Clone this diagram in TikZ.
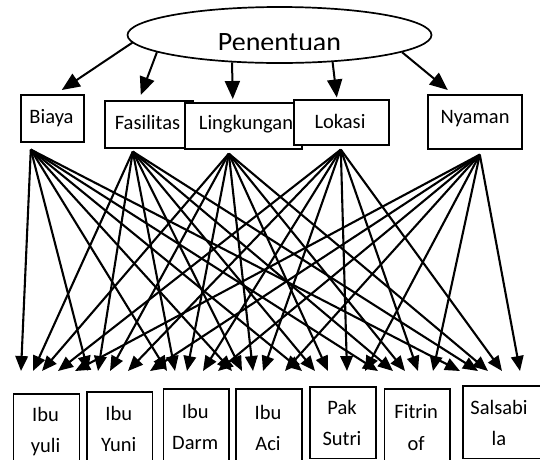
\documentclass[tikz,border=0pt]{standalone}
\usepackage{fontspec}
\setmainfont{Carlito}
\usetikzlibrary{arrows.meta,shapes.geometric,calc}
\begin{document}
\begin{tikzpicture}[x=1pt,y=-1pt,
  box/.style={draw,line width=1.6pt,rectangle,inner sep=0pt,anchor=north west,fill=white},
  lbl/.style={font=\fontsize{20.5}{24}\selectfont,anchor=base,inner sep=0pt},
  arr/.style={line width=2pt,-{Triangle[length=18pt,width=15pt]}},
  fan/.style={line width=2.1pt,-{Triangle[length=15pt,width=12.5pt]}}]
\useasboundingbox (0,0) rectangle (540,459);
% ellipse
\node[draw,ellipse,line width=1.7pt,minimum width=304pt,minimum height=56pt,inner sep=0pt] (pe) at (279.5,35) {};
\begin{scope}
\clip (0,0) rectangle (540,49.3);
\node[anchor=base,inner sep=0pt,font=\fontsize{28}{30}\selectfont] (pt) at (279.5,51.5) {Penentuan};
\end{scope}
% criteria boxes
\node[box,minimum width=63pt,minimum height=47pt] (bi) at (20,94) {};
\node[box,minimum width=88pt,minimum height=47pt] (fa) at (104,100) {};
\node[box,minimum width=117pt,minimum height=46pt] (li) at (184,102) {};
\node[box,minimum width=95pt,minimum height=45pt] (lo) at (293,99) {};
\node[box,minimum width=94pt,minimum height=54pt] (ny) at (427,94) {};
\node[lbl] (bit) at (51.5,123) {Biaya};
\node[lbl] (fat) at (147.5,129.3) {Fasilitas};
\node[lbl] (lit) at (246,129.3) {Lingkungan};
\node[lbl] (lot) at (340,128.3) {Lokasi};
\node[lbl] (nyt) at (475,123.3) {Nyaman};
% arrows from ellipse
\draw[arr] (pe.183.4) -- ($(bi.north)+(9.5,-4)$);
\draw[arr] (pe.188.8) -- ($(fa.north)+(-8,-5)$);
\draw[arr] (pe.210.5) -- ($(li.north)+(-10.5,-3)$);
\draw[arr] (pe.333.6) -- ($(lo.north)+(-4.5,-1.5)$);
\draw[arr] (pe.352) -- ($(ny.north)+(-27,-4)$);
% fan origins
\coordinate (bo) at ($(bi.south)+(-21.5,7)$);
\coordinate (fo) at ($(fa.south)+(-16,3)$);
\coordinate (lio) at ($(li.south)+(-14.5,4)$);
\coordinate (loo) at ($(lo.south)+(-0.5,4)$);
\coordinate (no) at ($(ny.south)+(5,5)$);
% bottom boxes
\node[box,minimum width=65.8pt,minimum height=70pt] (b1) at (12.7,393) {};
\node[box,minimum width=65.5pt,minimum height=72pt] (b2) at (86,391) {};
\node[box,minimum width=65.5pt,minimum height=75pt] (b3) at (162.5,388) {};
\node[box,minimum width=66pt,minimum height=75pt] (b4) at (235,388) {};
\node[box,minimum width=66pt,minimum height=71.5pt] (b5) at (309,386) {};
\node[box,minimum width=65.5pt,minimum height=75pt] (b6) at (383.5,388) {};
\node[box,minimum width=82pt,minimum height=72.5pt] (b7) at (462,385) {};
\node[lbl] (b1a) at (45.6,421.5) {Ibu};
\node[lbl] (b1b) at (45.6,452.5) {yuli};
\node[lbl] (b2a) at (118.7,420.8) {Ibu};
\node[lbl] (b2b) at (118.7,451.8) {Yuni};
\node[lbl] (b3a) at (195.2,418.5) {Ibu};
\node[lbl] (b3b) at (195.2,449.5) {Darm};
\node[lbl] (b4a) at (268,419.5) {Ibu};
\node[lbl] (b4b) at (268,450.5) {Aci};
\node[lbl] (b5a) at (342,414.5) {Pak};
\node[lbl] (b5b) at (342,445.6) {Sutri};
\node[lbl] (b6a) at (416.2,418.7) {Fitrin};
\node[lbl] (b6b) at (416.2,450.5) {of};
\node[lbl] (b7a) at (499,414.5) {Salsabi};
\node[lbl] (b7b) at (499,445.6) {la};
% fans
\foreach \o/\xs in {bo/{21,88,167,232,302,378,460},
                    fo/{33,98,175,242,315,393,478},
                    lio/{42,110,187,253,328,405,488},
                    loo/{58,128,203,263,347,418,502},
                    no/{75,150,218,285,365,433,520}}{
  \foreach \x in \xs {
    \coordinate (t-\o-\x) at (\x,371);
    \draw[fan] (\o) -- (t-\o-\x);
  }
}
\end{tikzpicture}
\end{document}
